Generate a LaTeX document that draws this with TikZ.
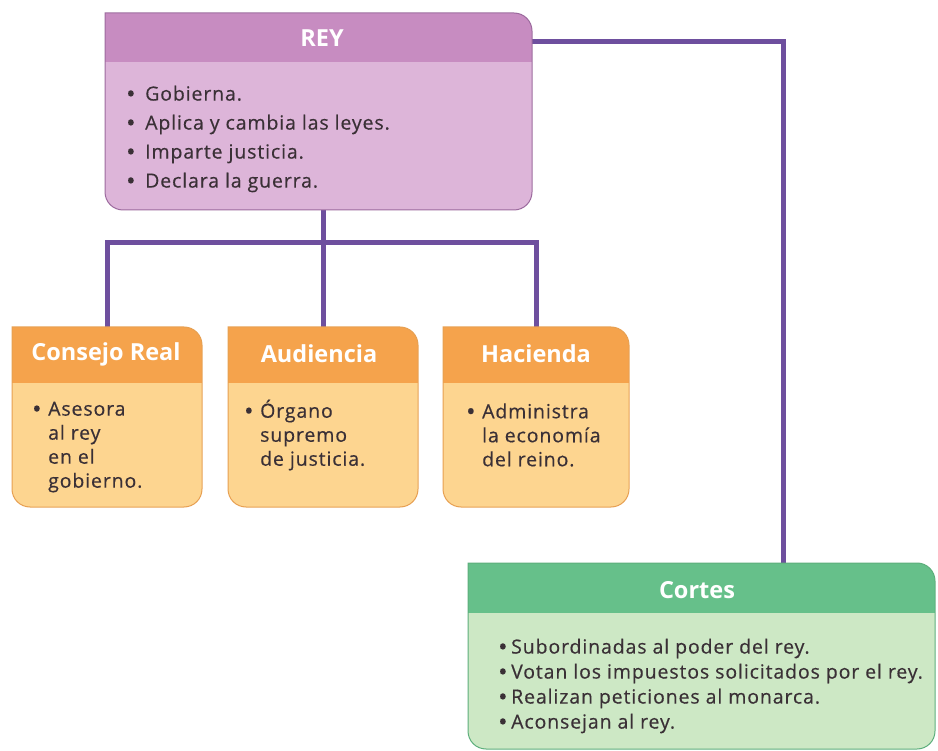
\documentclass[tikz,border=0pt]{standalone}
\usepackage{fontspec}
\setmainfont{Open Sans}
\newfontfamily\bodyfont[LetterSpace=4.5,FakeBold=0.4]{Open Sans}
\newfontfamily\headfont{Open Sans}
\definecolor{conn}{HTML}{6E4F9E}
\definecolor{reyH}{HTML}{C78CC1}
\definecolor{reyB}{HTML}{DDB5D9}
\definecolor{reyL}{HTML}{9C6A9E}
\definecolor{orH}{HTML}{F5A34C}
\definecolor{orB}{HTML}{FDD590}
\definecolor{orL}{HTML}{E7A052}
\definecolor{grH}{HTML}{66C08A}
\definecolor{grB}{HTML}{CDE8C5}
\definecolor{grL}{HTML}{5DAF7C}
\definecolor{txt}{HTML}{3A3036}
\newcommand{\boxpath}[4]{(#1+40,#2) [rounded corners=18pt] -- (#3,#2) -- (#3,#4) -- (#1,#4) [sharp corners] -- (#1,#2) -- cycle}
\newcommand{\cbox}[8]{%
  \begin{scope}
    \clip \boxpath{#1}{#2}{#3}{#4};
    \fill[#7] (#1,#2) rectangle (#3,#4);
    \fill[#6] (#1,#2) rectangle (#3,#5);
  \end{scope}
  \draw[#8, line width=1pt] \boxpath{#1}{#2}{#3}{#4};
}
\newcommand{\bul}[1]{\makebox[#1][l]{\bfseries\textbullet}}
\tikzset{
  connector/.style={draw=conn, line width=5pt},
  head/.style={text=white, font=\headfont\fontsize{23.5}{28}\selectfont\bfseries, inner sep=0pt},
  body/.style={text=txt, align=left, inner sep=0pt, anchor=west},
}
\begin{document}
\begin{tikzpicture}[x=1pt,y=-1pt]
\useasboundingbox (0,0) rectangle (938,751);
\fill[white] (0,0) rectangle (938,751);
% invisible frames
\node[inner sep=0pt, minimum width=427pt, minimum height=197pt] (rey) at (318.5,111.5) {};
\node[inner sep=0pt, minimum width=190pt, minimum height=180pt] (consejo) at (107,417) {};
\node[inner sep=0pt, minimum width=190pt, minimum height=180pt] (audiencia) at (323,417) {};
\node[inner sep=0pt, minimum width=186pt, minimum height=180pt] (hacienda) at (536,417) {};
\node[inner sep=0pt, minimum width=467pt, minimum height=186pt] (cortes) at (701,656) {};
% connectors
\draw[connector] (consejo.north) -- ++(0,-84) -| (hacienda.north);
\draw[connector] (audiencia.north |- rey.south) -- (audiencia.north);
\draw[connector] ([yshift=-29pt]rey.north east) -| ([xshift=82pt]cortes.north);
% boxes
\cbox{105}{13}{532}{210}{62}{reyH}{reyB}{reyL}
\cbox{12}{327}{202}{507}{383}{orH}{orB}{orL}
\cbox{228}{327}{418}{507}{383}{orH}{orB}{orL}
\cbox{443}{327}{629}{507}{383}{orH}{orB}{orL}
\cbox{468}{563}{935}{749}{613}{grH}{grB}{grL}
% texts
\node[head] (reyH) at (322,38) {REY};
\node[body, font=\bodyfont\fontsize{19.5}{29}\selectfont] (reyT) at (127,139)
  {\bul{18pt}Gobierna.\\\bul{18pt}Aplica y cambia las leyes.\\\bul{18pt}Imparte justicia.\\\bul{18pt}Declara la guerra.};
\node[head] (conH) at (106,354) {Consejo Real};
\node[head] (audH) at (319,354) {Audiencia};
\node[head] (hacH) at (536,354) {Hacienda};
\node[body, font=\bodyfont\fontsize{19.5}{24}\selectfont] (conT) at (33,447)
  {\bul{15pt}Asesora\\\hspace*{15pt}al rey\\\hspace*{15pt}en el\\\hspace*{15pt}gobierno.};
\node[body, font=\bodyfont\fontsize{19.5}{24}\selectfont] (audT) at (245,435)
  {\bul{15pt}Órgano\\\hspace*{15pt}supremo\\\hspace*{15pt}de justicia.};
\node[body, font=\bodyfont\fontsize{19.5}{24}\selectfont] (hacT) at (467,435)
  {\bul{15pt}Administra\\\hspace*{15pt}la economía\\\hspace*{15pt}del reino.};
\node[head] (corH) at (697,590) {Cortes};
\node[body, font=\bodyfont\fontsize{19.5}{25}\selectfont] (corT) at (499,686)
  {\bul{12pt}Subordinadas al poder del rey.\\\bul{12pt}Votan los impuestos solicitados por el rey.\\\bul{12pt}Realizan peticiones al monarca.\\\bul{12pt}Aconsejan al rey.};
\end{tikzpicture}
\end{document}
